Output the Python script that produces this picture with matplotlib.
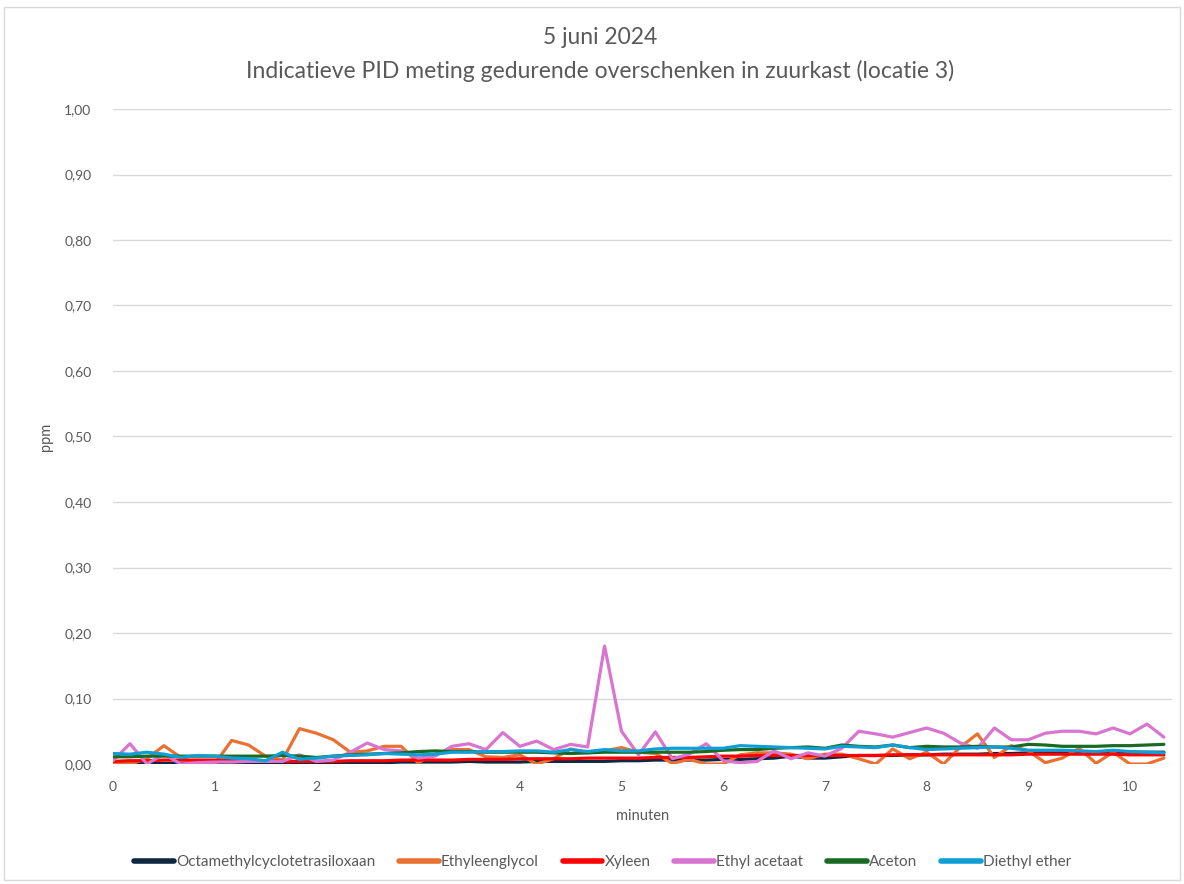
import matplotlib
matplotlib.use("Agg")
import matplotlib.pyplot as plt
from matplotlib.ticker import FuncFormatter, MultipleLocator
from matplotlib.patches import Rectangle

# time in seconds, one reading every 10 s
seconden = list(range(0, 630, 10))
minuten = [s / 60 for s in seconden]

octamethyl = [0.0, 0.0, 0.001, 0.001, 0.001, 0.001, 0.001, 0.001, 0.001, 0.001, 0.001, 0.001,
              0.001, 0.002, 0.002, 0.002, 0.002, 0.003, 0.003, 0.003, 0.003, 0.004, 0.003, 0.003,
              0.003, 0.004, 0.004, 0.004, 0.004, 0.004, 0.005, 0.005, 0.006, 0.006, 0.006, 0.006,
              0.007, 0.007, 0.008, 0.009, 0.012, 0.009, 0.009, 0.011, 0.013, 0.013, 0.013, 0.014,
              0.014, 0.015, 0.015, 0.015, 0.016, 0.016, 0.017, 0.017, 0.017, 0.016, 0.017, 0.018,
              0.018, 0.018, 0.018]
ethyleenglycol = [0.0, 0.0, 0.008, 0.028, 0.01, 0.0, 0.0, 0.036, 0.029, 0.012, 0.006, 0.054,
                  0.047, 0.037, 0.018, 0.02, 0.027, 0.027, 0.002, 0.015, 0.022, 0.022, 0.011, 0.01,
                  0.014, 0.0, 0.008, 0.023, 0.017, 0.02, 0.025, 0.018, 0.016, 0.001, 0.007, 0.0,
                  0.0, 0.014, 0.017, 0.017, 0.015, 0.008, 0.015, 0.015, 0.008, 0.0, 0.023, 0.008,
                  0.018, 0.0, 0.026, 0.046, 0.01, 0.028, 0.02, 0.002, 0.009, 0.024, 0.001, 0.018,
                  0.0, 0.0, 0.009]
xyleen = [0.004, 0.005, 0.005, 0.006, 0.006, 0.006, 0.006, 0.006, 0.005, 0.005, 0.004, 0.004,
          0.004, 0.004, 0.005, 0.005, 0.005, 0.006, 0.006, 0.006, 0.006, 0.007, 0.007, 0.007,
          0.008, 0.008, 0.008, 0.008, 0.009, 0.009, 0.009, 0.009, 0.01, 0.01, 0.01, 0.011,
          0.012, 0.012, 0.013, 0.013, 0.013, 0.013, 0.013, 0.013, 0.013, 0.013, 0.014, 0.014,
          0.014, 0.014, 0.014, 0.014, 0.014, 0.014, 0.015, 0.015, 0.015, 0.015, 0.015, 0.015,
          0.014, 0.014, 0.014]
ethyl_acetaat = [0.005, 0.031, 0.0, 0.015, 0.0, 0.002, 0.003, 0.003, 0.004, 0.004, 0.004, 0.014,
                 0.004, 0.006, 0.018, 0.032, 0.022, 0.02, 0.009, 0.012, 0.027, 0.031, 0.022, 0.048,
                 0.027, 0.035, 0.022, 0.03, 0.026, 0.18, 0.05, 0.014, 0.049, 0.008, 0.015, 0.031,
                 0.005, 0.002, 0.004, 0.02, 0.008, 0.017, 0.012, 0.024, 0.05, 0.046, 0.041, 0.048,
                 0.055, 0.047, 0.032, 0.024, 0.055, 0.037, 0.037, 0.047, 0.05, 0.05, 0.046, 0.055,
                 0.046, 0.061, 0.041]
aceton = [0.011, 0.011, 0.012, 0.012, 0.012, 0.012, 0.012, 0.012, 0.012, 0.012, 0.013, 0.012,
          0.01, 0.012, 0.014, 0.015, 0.016, 0.017, 0.019, 0.02, 0.019, 0.019, 0.018, 0.018,
          0.018, 0.018, 0.017, 0.016, 0.017, 0.018, 0.018, 0.018, 0.018, 0.018, 0.018, 0.019,
          0.021, 0.022, 0.022, 0.024, 0.025, 0.026, 0.024, 0.029, 0.027, 0.026, 0.029, 0.025,
          0.027, 0.026, 0.026, 0.027, 0.026, 0.026, 0.03, 0.029, 0.027, 0.027, 0.027, 0.028,
          0.028, 0.029, 0.03]
diethyl_ether = [0.016, 0.015, 0.018, 0.015, 0.01, 0.013, 0.012, 0.009, 0.008, 0.005, 0.018, 0.007,
                 0.009, 0.012, 0.013, 0.014, 0.016, 0.015, 0.014, 0.015, 0.018, 0.018, 0.019, 0.019,
                 0.02, 0.02, 0.018, 0.022, 0.019, 0.022, 0.02, 0.02, 0.023, 0.024, 0.024, 0.024,
                 0.024, 0.028, 0.027, 0.026, 0.025, 0.024, 0.023, 0.027, 0.026, 0.025, 0.029, 0.025,
                 0.022, 0.023, 0.024, 0.025, 0.026, 0.024, 0.021, 0.021, 0.021, 0.02, 0.019, 0.021,
                 0.019, 0.018, 0.017]

series = [
    ("Octamethylcyclotetrasiloxaan", octamethyl, "#0E2841"),
    ("Ethyleenglycol", ethyleenglycol, "#E97132"),
    ("Xyleen", xyleen, "#FF0000"),
    ("Ethyl acetaat", ethyl_acetaat, "#D974D0"),
    ("Aceton", aceton, "#196B24"),
    ("Diethyl ether", diethyl_ether, "#0F9ED5"),
]

plt.rcParams['font.family'] = ['Lato', 'DejaVu Sans']
text_color = "#595959"

fig = plt.figure(figsize=(11.84, 8.84), dpi=100)
ax = fig.add_axes([113 / 1184, 1 - 764 / 884, (1172 - 113) / 1184, (764 - 109) / 884])

for name, values, color in series:
    ax.plot(minuten, values, color=color, linewidth=2.3, label=name, solid_capstyle='round')

ax.set_xlim(0, (1172 - 113) / 101.7)
ax.set_ylim(0, 1.0)
ax.yaxis.set_major_locator(MultipleLocator(0.1))
ax.xaxis.set_major_locator(MultipleLocator(1))
ax.yaxis.set_major_formatter(FuncFormatter(lambda v, _: f"{v:.2f}".replace('.', ',')))
ax.grid(axis='y', color='#D9D9D9', linewidth=1)
ax.set_axisbelow(True)
for s in ax.spines.values():
    s.set_visible(False)
ax.tick_params(axis='both', length=0, labelsize=10, colors=text_color)
ax.tick_params(axis='y', pad=15.5)
ax.tick_params(axis='x', pad=12)

ax.set_xlabel("minuten", fontsize=10.5, color=text_color, labelpad=11.5)
ax.set_ylabel("ppm", fontsize=10.5, color=text_color, labelpad=8)

fig.text(0.507, 1 - 38 / 884, "5 juni 2024", ha='center', va='center', fontsize=16.5, color=text_color)
fig.text(0.507, 1 - 71 / 884, "Indicatieve PID meting gedurende overschenken in zuurkast (locatie 3)",
         ha='center', va='center', fontsize=16.5, color=text_color)

leg = fig.legend(loc='center', bbox_to_anchor=(0.509, 1 - 862 / 884), ncol=6, frameon=False,
                 fontsize=11, handlelength=2.6, handletextpad=0.15, columnspacing=1.55)
for t in leg.get_texts():
    t.set_color(text_color)
for h in leg.legend_handles:
    h.set_linewidth(4)

fig.patches.append(Rectangle((4 / 1184, 4 / 884), 1176 / 1184, 873 / 884, transform=fig.transFigure,
                             fill=False, edgecolor='#D9D9D9', linewidth=1))

fig.savefig("out.png", dpi=100)
